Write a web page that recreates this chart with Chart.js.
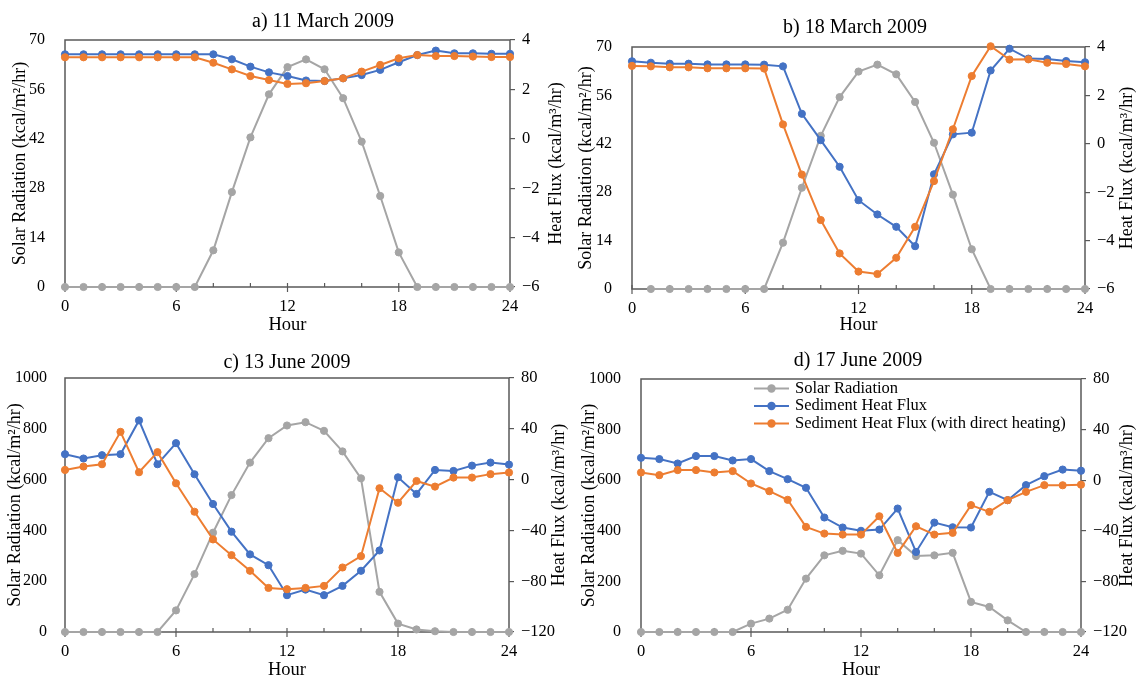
<!DOCTYPE html>
<html><head><meta charset="utf-8">
<script src="https://cdn.jsdelivr.net/npm/chart.js@4.4.0/dist/chart.umd.min.js"></script>
<style>
html,body{margin:0;padding:0;background:#fff;}
#wrap{position:relative;width:1137px;height:679px;overflow:hidden;background:#fff;}
canvas{position:absolute;}
</style></head><body>
<div id="wrap">
<canvas id="ca" width="570" height="340" style="left:0px;top:0px"></canvas>
<canvas id="cb" width="567" height="340" style="left:570px;top:0px"></canvas>
<canvas id="cc" width="570" height="339" style="left:0px;top:340px"></canvas>
<canvas id="cd" width="567" height="339" style="left:570px;top:340px"></canvas>
</div>
<script>
// ---------- data ----------
const hours = [0,1,2,3,4,5,6,7,8,9,10,11,12,13,14,15,16,17,18,19,20,21,22,23,24];
const seriesNames = ['Solar Radiation','Sediment Heat Flux','Sediment Heat Flux (with direct heating)'];
const panelTitles = ['a) 11 March 2009','b) 18 March 2009','c) 13 June 2009','d) 17 June 2009'];
const xTickLabels = [0,6,12,18,24];
const marchSolarTicks = [0,14,28,42,56,70];
const marchFluxTicks = [-6,-4,-2,0,2,4];
const juneSolarTicks = [0,200,400,600,800,1000];
const juneFluxTicks = [-120,-80,-40,0,40,80];

const aSolar = [0,0,0,0,0,0,0,0,10.4,26.9,42.4,54.6,62.3,64.5,61.7,53.5,41.2,25.8,9.8,0,0,0,0,0,0];
const aFlux  = [3.42,3.42,3.42,3.42,3.42,3.42,3.42,3.42,3.42,3.22,2.92,2.69,2.54,2.36,2.34,2.45,2.58,2.79,3.10,3.39,3.57,3.46,3.46,3.44,3.44];
const aFluxDH= [3.30,3.30,3.30,3.30,3.30,3.30,3.30,3.30,3.08,2.81,2.54,2.38,2.22,2.25,2.34,2.45,2.72,2.99,3.26,3.39,3.35,3.35,3.33,3.31,3.31];

const bSolar = [null,0,0,0,0,0,0,0,13.4,29.3,44.3,55.5,62.9,64.9,62.1,54.1,42.3,27.3,11.5,0,0,0,0,0,0];
const bFlux  = [3.41,3.35,3.31,3.31,3.28,3.28,3.28,3.27,3.20,1.24,0.15,-0.95,-2.33,-2.92,-3.43,-4.23,-1.26,0.39,0.46,3.03,3.93,3.52,3.50,3.42,3.37];
const bFluxDH= [3.22,3.20,3.16,3.16,3.12,3.12,3.12,3.11,0.80,-1.27,-3.15,-4.53,-5.28,-5.38,-4.71,-3.43,-1.54,0.60,2.80,4.03,3.48,3.49,3.35,3.30,3.20];

const cSolar = [0,0,0,0,0,0,85,228,391,539,667,763,813,826,792,711,605,158,33,10,3,0,0,0,0];
const cFlux  = [20,16.6,19.2,20,46.6,12.1,28.7,4.2,-19.2,-41,-58.9,-67.4,-91,-86.6,-91,-83.7,-71.8,-55.8,1.8,-11.3,7.6,6.8,11,13.4,11.8];
const cFluxDH= [7.6,10.3,12.1,37.6,5.8,21.6,-2.9,-25.3,-47.1,-59.5,-71.8,-85.3,-86.3,-85.3,-83.7,-69.2,-60.3,-6.8,-18.2,-1.1,-5.5,1.6,1.6,4.3,5.6];

const dSolar = [0,0,0,0,0,0,33,53,88,211,303,321,310,224,363,300,303,313,119,99,46,0,0,0,0];
const dFlux  = [17.7,16.7,13.2,19.1,19.1,15.6,16.7,7.2,0.8,-6.0,-29.5,-37.4,-40,-39,-22.4,-56.7,-33.5,-37.2,-37.4,-9.2,-15.8,-3.9,3.2,8.4,7.5];
const dFluxDH= [6.1,4.0,8.0,8.0,6.1,7.2,-2.6,-8.7,-15.5,-36.9,-42.2,-43,-43,-28.5,-57.5,-36.4,-43,-41.6,-19.7,-25,-15.8,-9.2,-3.9,-4.0,-3.5];

// ---------- styling ----------
const FONT = "'Liberation Serif','Times New Roman',serif";
const COLORS = ['#A5A5A5','#4472C4','#ED7D31'];
const AXIS = '#595959';
Chart.defaults.font.family = FONT;
Chart.defaults.color = '#000';

const fmtMinus = v => (v < 0 ? '\u2212' + Math.abs(v) : String(v));
const toXY = arr => hours.map((h, i) => ({x: h, y: arr[i]}));

const panelPlugin = {
  id: 'panel',
  beforeDatasetsDraw(chart, args, o) {
    const {ctx, chartArea: a, scales} = chart;
    ctx.save();
    ctx.strokeStyle = AXIS;
    ctx.lineWidth = 1.5;
    ctx.strokeRect(a.left, a.top, a.right - a.left, a.bottom - a.top);
    ctx.lineWidth = 1.2;
    scales.x.ticks.forEach(t => {
      const px = scales.x.getPixelForValue(t.value);
      const major = xTickLabels.includes(t.value);
      ctx.beginPath();
      ctx.moveTo(px, a.bottom - 4);
      ctx.lineTo(px, a.bottom + (major ? 5 : 0));
      ctx.stroke();
    });
    ctx.restore();
  },
  afterDraw(chart, args, o) {
    const {ctx, chartArea: a} = chart;
    const cy = (a.top + a.bottom) / 2;
    ctx.save();
    ctx.fillStyle = '#000';
    ctx.textAlign = 'center';
    ctx.textBaseline = 'middle';
    ctx.font = '20px ' + FONT;
    ctx.fillText(o.title, o.tx, o.ty);
    ctx.font = '18.5px ' + FONT;
    ctx.fillText('Hour', (a.left + a.right) / 2, o.hy);
    ctx.font = '18px ' + FONT;
    ctx.save();
    ctx.translate(o.lx, cy);
    ctx.rotate(-Math.PI / 2);
    ctx.fillText('Solar Radiation (kcal/m\u00B2/hr)', 0, 0);
    ctx.restore();
    ctx.save();
    ctx.translate(o.rx, cy);
    ctx.rotate(-Math.PI / 2);
    ctx.fillText('Heat Flux (kcal/m\u00B3/hr)', 0, 0);
    ctx.restore();
    if (o.legend) {
      const L = o.legend;
      ctx.font = '16.5px ' + FONT;
      ctx.textAlign = 'left';
      chart.data.datasets.forEach((ds, i) => {
        const y = L.rows[i];
        ctx.strokeStyle = ds.borderColor;
        ctx.lineWidth = 2;
        ctx.beginPath();
        ctx.moveTo(L.x1, y); ctx.lineTo(L.x2, y); ctx.stroke();
        ctx.fillStyle = ds.borderColor;
        ctx.beginPath();
        ctx.arc((L.x1 + L.x2) / 2, y, 4.2, 0, Math.PI * 2);
        ctx.fill();
        ctx.fillStyle = '#000';
        ctx.fillText(ds.label, L.tx, y);
      });
    }
    ctx.restore();
  }
};

function makePanel(id, solar, flux, fluxDH, box, text, solarTicks, fluxTicks) {
  const canvas = document.getElementById(id);
  const W = canvas.width, H = canvas.height;
  const mk = (i, arr) => ({
    label: seriesNames[i], data: toXY(arr), yAxisID: i === 0 ? 'y' : 'y1',
    borderColor: COLORS[i], backgroundColor: COLORS[i],
    pointBackgroundColor: COLORS[i], pointBorderColor: COLORS[i],
    borderWidth: 2, pointRadius: 3.6, pointBorderWidth: 1, tension: 0,
    order: 2 - i, clip: false, spanGaps: false
  });
  return new Chart(canvas, {
    type: 'line',
    data: { datasets: [mk(0, solar), mk(1, flux), mk(2, fluxDH)] },
    options: {
      responsive: false, animation: false, devicePixelRatio: 1,
      layout: { padding: { top: box.top, left: 0, right: 0, bottom: 0 } },
      plugins: { legend: { display: false }, tooltip: { enabled: false }, panel: text },
      scales: {
        x: {
          type: 'linear', min: xTickLabels[0], max: xTickLabels[xTickLabels.length - 1],
          ticks: { stepSize: 2, autoSkip: false, maxRotation: 0, padding: 2,
                   font: { size: 16.5 }, color: '#000',
                   callback: v => (xTickLabels.includes(v) ? String(v) : '') },
          grid: { display: false }, border: { display: false },
          afterFit: s => { s.height = H - box.bottom; }
        },
        y: {
          position: 'left', min: solarTicks[0], max: solarTicks[solarTicks.length - 1],
          ticks: { stepSize: solarTicks[1] - solarTicks[0], padding: text.tp, font: { size: 16 }, color: '#000',
                   callback: v => String(v) },
          grid: { display: false }, border: { display: false },
          afterFit: s => { s.width = box.left; }
        },
        y1: {
          position: 'right', min: fluxTicks[0], max: fluxTicks[fluxTicks.length - 1],
          ticks: { stepSize: fluxTicks[1] - fluxTicks[0], padding: 7, font: { size: 16.5 }, color: '#000',
                   callback: v => fmtMinus(v) },
          grid: { display: true, drawOnChartArea: false, drawTicks: true, tickLength: 5, color: AXIS, lineWidth: 1.2 },
          border: { display: false },
          afterFit: s => { s.width = W - box.right; }
        }
      }
    },
    plugins: [panelPlugin]
  });
}

makePanel('ca', aSolar, aFlux, aFluxDH,
  { left: 65, right: 510, top: 40, bottom: 287 },
  { title: panelTitles[0], tx: 323, ty: 22, hy: 325, lx: 20, rx: 556, tp: 12 },
  marchSolarTicks, marchFluxTicks);
makePanel('cb', bSolar, bFlux, bFluxDH,
  { left: 62, right: 515, top: 47, bottom: 289 },
  { title: panelTitles[1], tx: 285, ty: 28, hy: 325, lx: 16, rx: 557, tp: 12 },
  marchSolarTicks, marchFluxTicks);
makePanel('cc', cSolar, cFlux, cFluxDH,
  { left: 65, right: 509, top: 38, bottom: 292 },
  { title: panelTitles[2], tx: 287, ty: 23, hy: 330, lx: 15, rx: 559, tp: 10 },
  juneSolarTicks, juneFluxTicks);
makePanel('cd', dSolar, dFlux, dFluxDH,
  { left: 71, right: 511, top: 39, bottom: 292 },
  { title: panelTitles[3], tx: 288, ty: 21, hy: 330, lx: 19, rx: 557, tp: 12,
    legend: { x1: 184, x2: 219, tx: 225, rows: [48.5, 66, 83.5] } },
  juneSolarTicks, juneFluxTicks);
</script>
</body></html>
